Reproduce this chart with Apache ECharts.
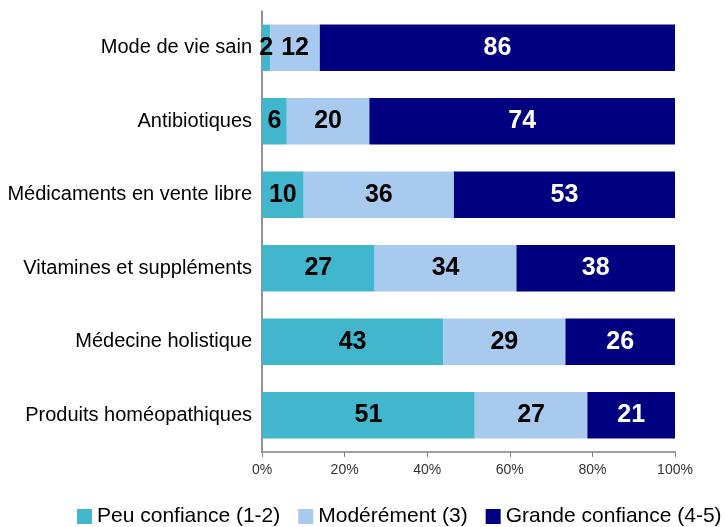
<!DOCTYPE html>
<html>
<head>
<meta charset="utf-8">
<script src="https://cdn.jsdelivr.net/npm/echarts@6/dist/echarts.min.js"></script>
<style>html,body{margin:0;padding:0;background:#fff;}#c{width:727px;height:527px;}</style>
</head>
<body>
<div id="c"></div>
<script>
const categories = ["Mode de vie sain", "Antibiotiques", "Médicaments en vente libre", "Vitamines et suppléments", "Médecine holistique", "Produits homéopathiques"];
const seriesNames = ["Peu confiance (1-2)", "Modérément (3)", "Grande confiance (4-5)"];
const peu = [2, 6, 10, 27, 43, 51];
const moderement = [12, 20, 36, 34, 29, 27];
const grande = [86, 74, 53, 38, 26, 21];
const xTicks = [0, 20, 40, 60, 80, 100];
const colors = ["#41B6CC", "#A7CAEE", "#000080"];

const raw = [peu, moderement, grande];
const totals = categories.map((_, i) => peu[i] + moderement[i] + grande[i]);
const font = "'Liberation Sans', Arial, sans-serif";

const chart = echarts.init(document.getElementById('c'), null, {renderer: 'canvas'});
chart.setOption({
  animation: false,
  grid: {left: 262, right: 52, top: 11, bottom: 75, containLabel: false},
  xAxis: {
    type: 'value', min: 0, max: 100, interval: 20,
    axisLine: {show: true, lineStyle: {color: '#7f7f7f', width: 1.5}},
    axisTick: {show: true, length: 5, lineStyle: {color: '#7f7f7f'}},
    splitLine: {show: false},
    axisLabel: {formatter: v => xTicks.includes(v) ? v + '%' : '', color: '#333', fontSize: 14, fontFamily: font, margin: 11}
  },
  yAxis: {
    type: 'category', data: categories, inverse: true,
    axisLine: {show: true, lineStyle: {color: '#6f6f6f', width: 1.5}},
    axisTick: {show: false},
    axisLabel: {color: '#000', fontSize: 20, fontFamily: font, margin: 10}
  },
  legend: {
    left: 77, top: 506, width: 650, padding: 0,
    itemWidth: 15, itemHeight: 15, itemGap: 18,
    icon: 'rect',
    textStyle: {fontSize: 21, fontFamily: font, color: '#000'},
    data: seriesNames
  },
  series: raw.map((vals, s) => ({
    name: seriesNames[s], type: 'bar', stack: 'total',
    barCategoryGap: '37%',
    itemStyle: {color: colors[s]},
    label: {
      show: true, position: 'inside',
      formatter: p => String(vals[p.dataIndex]),
      color: s === 2 ? '#fff' : '#000',
      fontSize: 25, fontWeight: 'bold', fontFamily: font
    },
    data: vals.map((v, i) => v / totals[i] * 100)
  }))
});
</script>
</body>
</html>
